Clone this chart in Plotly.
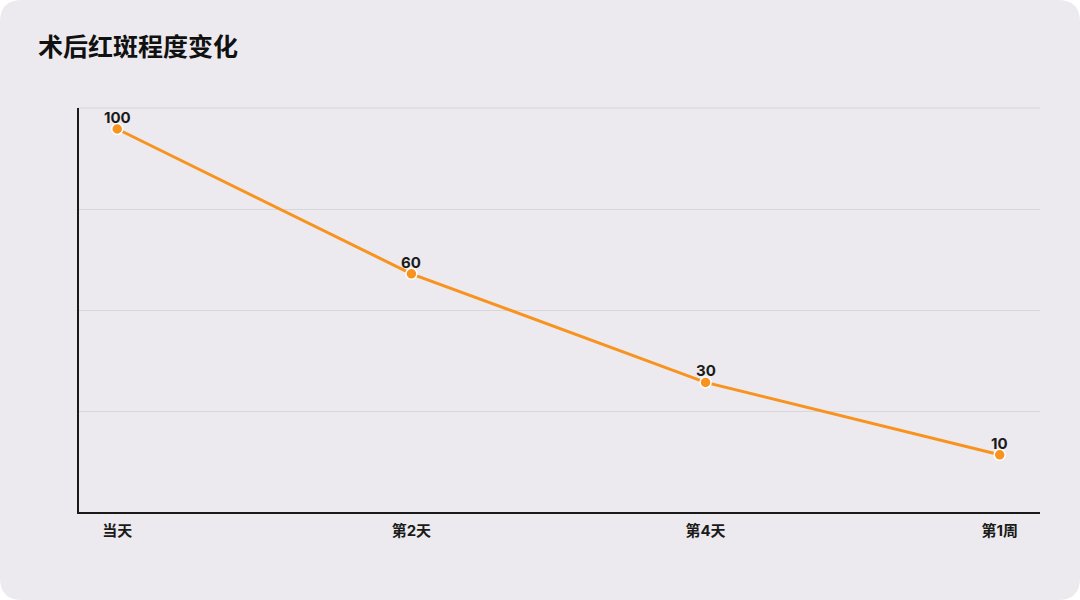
import plotly.graph_objects as go

# 数据
stages = ['当天', '第2天', '第4天', '第1周']
redness = [100, 60, 30, 10]

W, H = 1080, 600
ML, MR, MT, MB = 79, 40, 108, 88
pw, ph = W - ML - MR, H - MT - MB


def px(x):
    return (x - ML) / pw


def py(y):
    return (H - MB - y) / ph


# 圆角背景卡片
r = 22
card = (f"M {px(r)},{py(0)} L {px(W - r)},{py(0)} Q {px(W)},{py(0)} {px(W)},{py(r)} "
        f"L {px(W)},{py(H - r)} Q {px(W)},{py(H)} {px(W - r)},{py(H)} "
        f"L {px(r)},{py(H)} Q {px(0)},{py(H)} {px(0)},{py(H - r)} "
        f"L {px(0)},{py(r)} Q {px(0)},{py(0)} {px(r)},{py(0)} Z")

FONT = 'Inter, Noto Sans CJK SC'
GRID = '#D8D6DA'

fig = go.Figure()
fig.add_trace(go.Scatter(
    x=stages, y=redness, mode='lines+markers',
    line=dict(color='#F7931E', width=3),
    marker=dict(size=11, color='#F7931E', line=dict(color='white', width=1.5)),
    cliponaxis=False, hoverinfo='x+y'
))

# 数值标签
for s, v in zip(stages, redness):
    fig.add_annotation(x=s, y=v, text=f'<b>{v}</b>', showarrow=False, yanchor='bottom', yshift=0,
                       font=dict(size=15, color='#1a1a1a', family=FONT))

y_range = [-5.8, 105.8]
grid = [y_range[0] + (y_range[1] - y_range[0]) * k / 4 for k in range(4)]

fig.update_layout(
    width=W, height=H,
    margin=dict(l=ML, r=MR, t=MT, b=MB),
    paper_bgcolor='white', plot_bgcolor='rgba(0,0,0,0)',
    font=dict(family=FONT, color='#1a1a1a'),
    title=dict(text='<b>术后红斑程度变化</b>', x=38 / W, xanchor='left', y=1 - 47 / H, yanchor='middle',
               font=dict(size=25, color='#111111', family='Noto Sans CJK SC')),
    showlegend=False,
    shapes=[dict(type='path', path=card, xref='paper', yref='paper', layer='below',
                 fillcolor='#ECEAEE', line=dict(width=0)),
            dict(type='line', xref='paper', yref='paper', x0=0, x1=1, y0=1, y1=1, layer='below',
                 line=dict(color=GRID, width=1))],
)
fig.update_xaxes(range=[-0.13, 3.137], showgrid=False, showline=True, linecolor='#1a1a1a', linewidth=2,
                 ticks='', ticklabelstandoff=4, tickfont=dict(size=15, color='#1a1a1a', weight='bold'),
                 zeroline=False)
fig.update_yaxes(range=y_range, tickvals=grid, showticklabels=False, showgrid=True, gridcolor=GRID,
                 gridwidth=1, showline=True, linecolor='#1a1a1a', linewidth=2, zeroline=False, ticks='')

fig.write_html("out.html", config={'displayModeBar': False},
               post_script="document.body.style.margin='0';")
